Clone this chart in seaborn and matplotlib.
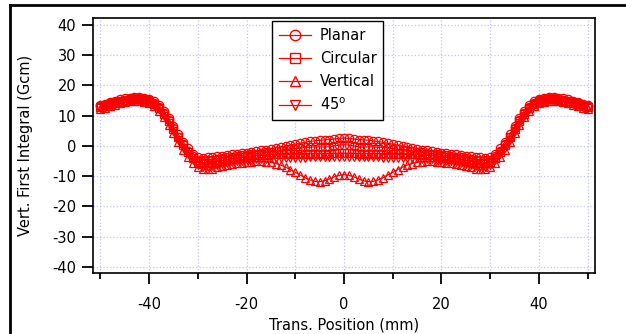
import matplotlib
matplotlib.use('Agg')
import matplotlib.pyplot as plt
from matplotlib.lines import Line2D
import seaborn as sns
import numpy as np
import pandas as pd

# transverse positions (mm), one point per mm
trans_pos = list(range(-50, 51))

# vertical first integral (Gcm)
planar_a = [13.5, 14.0, 14.5, 15.0, 15.4, 15.7, 16.0, 16.1, 16.1, 15.9, 15.5, 14.8, 13.5, 11.6, 9.2, 6.5, 3.8, 1.3, -0.8, -2.6,
            -3.8, -3.9, -3.8, -3.6, -3.4, -3.2, -3.0, -2.8, -2.6, -2.4, -2.2, -2.0, -1.8, -1.5, -1.2, -0.9, -0.6, -0.3, 0.0, 0.3,
            0.6, 0.9, 1.2, 1.5, 1.7, 1.9, 2.0, 2.1, 2.3, 2.5, 2.6,
            2.5, 2.3, 2.1, 2.0, 1.9, 1.7, 1.5, 1.2, 0.9, 0.6, 0.3, 0.0, -0.3, -0.6, -0.9, -1.2, -1.5, -1.8, -2.0, -2.2,
            -2.4, -2.6, -2.8, -3.0, -3.2, -3.4, -3.6, -3.8, -3.9, -3.8,
            -2.6, -0.8, 1.3, 3.8, 6.5, 9.2, 11.6, 13.5, 14.8, 15.5, 15.9, 16.1, 16.1, 16.0, 15.7, 15.4, 15.0, 14.5, 14.0, 13.5]
planar_b = [13.1, 13.6, 14.1, 14.6, 15.0, 15.3, 15.6, 15.7, 15.7, 15.5, 15.1, 14.3, 12.9, 10.9, 8.5, 5.8, 3.1, 0.6, -1.6, -3.4,
            -4.6, -4.8, -4.7, -4.5, -4.3, -4.0, -3.8, -3.5, -3.3, -3.1, -2.9, -2.7, -2.5, -2.3, -2.1, -1.9, -1.7, -1.5, -1.3, -1.1,
            -0.9, -0.7, -0.5, -0.4, -0.3, -0.3, -0.4, -0.3, 0.0, 0.3, 0.4,
            0.3, 0.0, -0.3, -0.4, -0.3, -0.3, -0.4, -0.5, -0.7, -0.9, -1.1, -1.3, -1.5, -1.7, -1.9, -2.1, -2.3, -2.5, -2.7, -2.9,
            -3.1, -3.3, -3.5, -3.8, -4.0, -4.3, -4.5, -4.7, -4.8, -4.6,
            -3.4, -1.6, 0.6, 3.1, 5.8, 8.5, 10.9, 12.9, 14.3, 15.1, 15.5, 15.7, 15.7, 15.6, 15.3, 15.0, 14.6, 14.1, 13.6, 13.1]
circular = [12.8, 13.3, 13.8, 14.3, 14.7, 15.0, 15.3, 15.4, 15.4, 15.2, 14.8, 14.0, 12.6, 10.6, 8.2, 5.5, 2.8, 0.2, -2.0, -3.9,
            -5.4, -5.7, -5.7, -5.5, -5.2, -4.9, -4.6, -4.3, -4.0, -3.7, -3.5, -3.3, -3.1, -3.0, -2.9, -2.8, -2.7, -2.6, -2.6, -2.5,
            -2.5, -2.5, -2.5, -2.5, -2.5, -2.5, -2.5, -2.5, -2.4, -2.4, -2.4,
            -2.4, -2.4, -2.5, -2.5, -2.5, -2.5, -2.5, -2.5, -2.5, -2.5, -2.5, -2.6, -2.6, -2.7, -2.8, -2.9, -3.0, -3.1, -3.3, -3.5,
            -3.7, -4.0, -4.3, -4.6, -4.9, -5.2, -5.5, -5.7, -5.7, -5.4,
            -3.9, -2.0, 0.2, 2.8, 5.5, 8.2, 10.6, 12.6, 14.0, 14.8, 15.2, 15.4, 15.4, 15.3, 15.0, 14.7, 14.3, 13.8, 13.3, 12.8]
vertical = [12.2, 12.7, 13.2, 13.7, 14.1, 14.4, 14.7, 14.8, 14.8, 14.6, 14.1, 13.2, 11.7, 9.5, 7.0, 4.2, 1.4, -1.3, -3.5, -5.5,
            -7.0, -7.6, -7.7, -7.5, -7.1, -6.7, -6.3, -6.0, -5.7, -5.5, -5.3, -5.2, -5.1, -5.1, -5.2, -5.4, -5.8, -6.3, -7.0, -7.8,
            -8.7, -9.6, -10.5, -11.2, -11.7, -11.8, -11.5, -10.9, -10.2, -9.7, -9.5,
            -9.7, -10.2, -10.9, -11.5, -11.8, -11.7, -11.2, -10.5, -9.6, -8.7, -7.8, -7.0, -6.3, -5.8, -5.4, -5.2, -5.1, -5.1, -5.2, -5.3,
            -5.5, -5.7, -6.0, -6.3, -6.7, -7.1, -7.5, -7.7, -7.6, -7.0,
            -5.5, -3.5, -1.3, 1.4, 4.2, 7.0, 9.5, 11.7, 13.2, 14.1, 14.6, 14.8, 14.8, 14.7, 14.4, 14.1, 13.7, 13.2, 12.7, 12.2]
deg45 = [12.5, 13.0, 13.5, 14.0, 14.4, 14.7, 15.0, 15.1, 15.1, 14.9, 14.4, 13.6, 12.1, 10.0, 7.5, 4.8, 2.0, -0.6, -2.8, -4.7,
         -6.3, -6.8, -6.9, -6.7, -6.4, -6.0, -5.7, -5.4, -5.1, -4.9, -4.7, -4.5, -4.4, -4.3, -4.2, -4.1, -4.0, -4.0, -4.0, -4.0,
         -4.0, -3.9, -3.9, -3.8, -3.8, -3.8, -3.8, -3.8, -3.8, -3.8, -3.8,
         -3.8, -3.8, -3.8, -3.8, -3.8, -3.8, -3.8, -3.9, -3.9, -4.0, -4.0, -4.0, -4.0, -4.0, -4.1, -4.2, -4.3, -4.4, -4.5, -4.7,
         -4.9, -5.1, -5.4, -5.7, -6.0, -6.4, -6.7, -6.9, -6.8, -6.3,
         -4.7, -2.8, -0.6, 2.0, 4.8, 7.5, 10.0, 12.1, 13.6, 14.4, 14.9, 15.1, 15.1, 15.0, 14.7, 14.4, 14.0, 13.5, 13.0, 12.5]

labels = ['Planar', 'Circular', 'Vertical', '45$^\\mathrm{o}$']
curves = [('Planar', planar_a), ('Planar', planar_b), ('Circular', circular),
          ('Vertical', vertical), ('45$^\\mathrm{o}$', deg45)]
marker_map = {'Planar': 'o', 'Circular': 's', 'Vertical': '^', '45$^\\mathrm{o}$': 'v'}

rows = []
for i, (lab, vals) in enumerate(curves):
    for x, y in zip(trans_pos, vals):
        rows.append({'x': x, 'y': y, 'pol': lab, 'curve': i})
df = pd.DataFrame(rows)

plt.rcParams['font.family'] = ['DejaVu Sans']
plt.rcParams['axes.unicode_minus'] = False
fig = plt.figure(figsize=(6.26, 3.34), dpi=100)
ax = fig.add_axes([0.1486, 0.1826, 0.8019, 0.7635])

sns.lineplot(data=df, x='x', y='y', hue='pol', style='pol', units='curve', estimator=None,
             palette=['red'] * 4, markers=marker_map, dashes=False, sort=False,
             markersize=6, markerfacecolor='none', markeredgecolor='red', markeredgewidth=0.9,
             linewidth=0.9, legend=False, ax=ax)

ax.set_xlim(-51.5, 51.5)
ax.set_ylim(-42, 42.3)
ax.set_xticks([-40, -20, 0, 20, 40])
ax.set_xticks([-50, -30, -10, 10, 30, 50], minor=True)
ax.set_yticks(np.arange(-40, 41, 10))
ax.grid(True, which='both', color='#c4c4ff', linestyle=':', linewidth=0.9)
ax.set_axisbelow(True)
ax.tick_params(axis='x', which='major', length=8, width=1.3, pad=9, labelsize=10.5)
ax.tick_params(axis='x', which='minor', length=4, width=1.3)
ax.tick_params(axis='y', length=8, width=1.3, pad=4, labelsize=10.5)
for s in ax.spines.values():
    s.set_linewidth(1.2)
ax.set_xlabel('Trans. Position (mm)', fontsize=10.5, labelpad=4)
ax.set_ylabel('Vert. First Integral (Gcm)', fontsize=10.5, labelpad=14)

handles = [Line2D([0], [0], color='red', lw=0.9, marker=marker_map[l], markersize=7.5,
                  markerfacecolor='none', markeredgecolor='red') for l in labels]
leg = ax.legend(handles, labels, loc='upper left', bbox_to_anchor=(0.357, 0.988), borderaxespad=0,
                fontsize=10.5, frameon=True, fancybox=False, framealpha=1,
                edgecolor='black', handlelength=2.2, handletextpad=0.6, labelspacing=0.55, borderpad=0.45)
leg.get_frame().set_linewidth(1.0)

# outer frame on the left and top of the picture
fig.add_artist(Line2D([0.016, 0.016], [0, 0.985], color='black', lw=2, transform=fig.transFigure))
fig.add_artist(Line2D([0.016, 1], [0.985, 0.985], color='black', lw=2, transform=fig.transFigure))

fig.savefig('out.png', dpi=100)
